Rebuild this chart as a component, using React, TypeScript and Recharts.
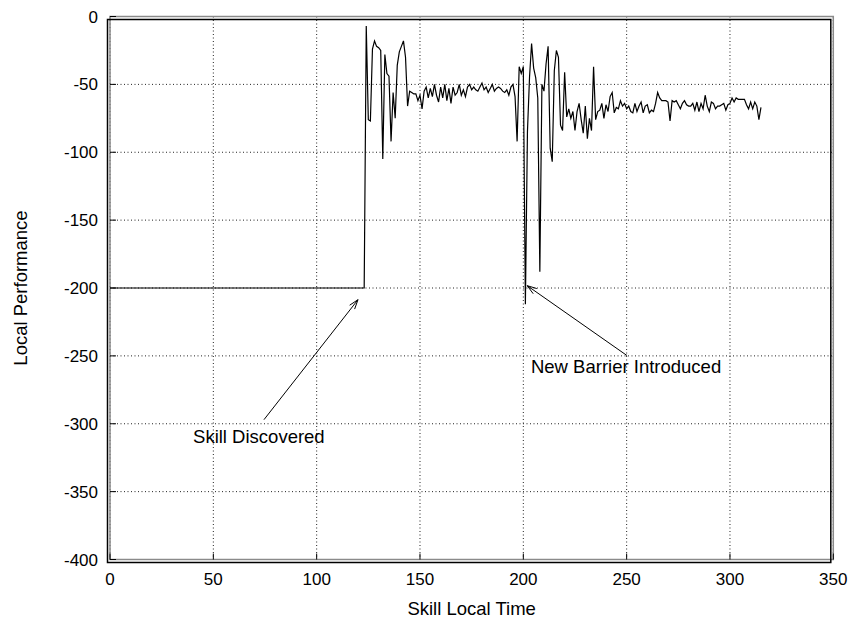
import React from 'react';
import {
  LineChart,
  Line,
  XAxis,
  YAxis,
  CartesianGrid,
  ReferenceLine,
  ReferenceDot,
  ReferenceArea,
} from 'recharts';

// ---------- data ----------
const flatSteps = [0, 123];
const flatPerformance = [-200, -200];
const discoveryStart = 124;
const performanceAfterDiscovery = [
  -7, -76, -77, -24, -18, -22, -23, -25, -105, -28, -42, -44, -92, -56, -75, -36, -26, -22, -18, -30, -66,
  -55, -56, -57, -57, -62, -58, -68, -55, -52, -60, -53, -59, -50, -58, -63, -52, -60, -50, -62, -53, -64,
  -52, -58, -56, -50, -58, -54, -59, -52, -50, -54, -52, -54, -55, -52, -49, -54, -52, -56, -53, -50, -55,
  -53, -52, -53, -55, -56, -54, -58, -52, -50, -59, -92, -37, -42, -37, -212, -85, -45, -20, -38, -45, -60,
  -188, -50, -55, -35, -22, -97, -107, -40, -25, -30, -80, -84, -41, -74, -68, -75, -70, -84, -70, -64,
  -76, -86, -66, -90, -75, -84, -37, -76, -70, -69, -64, -75, -65, -70, -59, -56, -71, -67, -68, -62, -66,
  -64, -68, -66, -70, -71, -64, -70, -66, -63, -71, -66, -65, -71, -69, -70, -64, -56, -60, -62, -62, -62,
  -63, -77, -62, -63, -62, -65, -68, -64, -62, -65, -66, -66, -64, -69, -63, -70, -64, -68, -58, -66, -70,
  -63, -64, -68, -66, -66, -65, -64, -69, -65, -64, -60, -63, -60, -61, -61, -61, -61, -65, -68, -63, -68,
  -63, -66, -76, -67,
];

const xTicks = [0, 50, 100, 150, 200, 250, 300, 350];
const yTicks = [0, -50, -100, -150, -200, -250, -300, -350, -400];

const annotations = [
  { text: 'Skill Discovered', textX: 40.2, textY: -309, fromX: 74.5, fromY: -297, toX: 120, toY: -208.6 },
  { text: 'New Barrier Introduced', textX: 203.7, textY: -258, fromX: 250.2, fromY: -249.8, toX: 201.9, toY: -198.3 },
];

const timeSteps = [...flatSteps, ...performanceAfterDiscovery.map((_, i) => discoveryStart + i)];
const performance = [...flatPerformance, ...performanceAfterDiscovery];
const data = timeSteps.map((t, i) => ({ t, perf: performance[i] }));

// ---------- style ----------
const FONT = '"Liberation Sans", Arial, Helvetica, sans-serif';
const FS_TICK = 17;
const FS_TITLE = 18.5;
const FS_NOTE = 18.5;
const TICK_IN = 6;
const X_MARGIN = 13;
const Y_MARGIN = 12;

const BottomTick = (props: any) => {
  const { x, y, payload } = props;
  const axisY = y - X_MARGIN;
  return (
    <g>
      <line x1={x} y1={axisY} x2={x} y2={axisY - TICK_IN} stroke="#000" strokeWidth={1} />
      <text x={x} y={y} dy="0.72em" textAnchor="middle" fontFamily={FONT} fontSize={FS_TICK} fill="#000">
        {payload.value}
      </text>
    </g>
  );
};

const LeftTick = (props: any) => {
  const { x, y, payload } = props;
  const axisX = x + Y_MARGIN;
  return (
    <g>
      <line x1={axisX} y1={y} x2={axisX + TICK_IN} y2={y} stroke="#000" strokeWidth={1} />
      <text x={x} y={y} dy="0.36em" textAnchor="end" fontFamily={FONT} fontSize={FS_TICK} fill="#000">
        {payload.value}
      </text>
    </g>
  );
};

const TopTick = (props: any) => {
  const { x, y } = props;
  return <line x1={x} y1={y} x2={x} y2={y + TICK_IN} stroke="#000" strokeWidth={1} />;
};

const RightTick = (props: any) => {
  const { x, y } = props;
  return <line x1={x} y1={y} x2={x - TICK_IN} y2={y} stroke="#000" strokeWidth={1} />;
};

const ArrowShape = (props: any) => {
  const { x1, y1, x2, y2 } = props;
  if ([x1, y1, x2, y2].some((v) => typeof v !== 'number' || isNaN(v))) return null;
  const ang = Math.atan2(y2 - y1, x2 - x1);
  const len = 10;
  const spread = 0.32;
  const ax = x2 - len * Math.cos(ang - spread);
  const ay = y2 - len * Math.sin(ang - spread);
  const bx = x2 - len * Math.cos(ang + spread);
  const by = y2 - len * Math.sin(ang + spread);
  return (
    <g>
      <line x1={x1} y1={y1} x2={x2} y2={y2} stroke="#000" strokeWidth={1} />
      <polyline points={`${ax},${ay} ${x2},${y2} ${bx},${by}`} fill="none" stroke="#000" strokeWidth={1} />
    </g>
  );
};

const makeTextShape = (text: string) => (props: any) => {
  const { cx, cy } = props;
  return (
    <text x={cx} y={cy} dy="0.36em" textAnchor="start" fontFamily={FONT} fontSize={FS_NOTE} fill="#000">
      {text}
    </text>
  );
};

const FrameShape = (props: any) => {
  const { x, y, width, height } = props;
  return (
    <g>
      <rect x={x} y={y} width={width} height={height} fill="none" stroke="#8a8a8a" strokeWidth={1.5} />
      <rect x={x - 2.5} y={y + 3} width={width} height={height} fill="none" stroke="#000" strokeWidth={1.5} />
    </g>
  );
};

export default function App() {
  return (
    <div style={{ width: 843, height: 615, padding: '8px 0 0 8px', overflow: 'visible' }}>
      <style>{`html, body { margin: 0; overflow: hidden; } svg.recharts-surface { overflow: visible; } .recharts-wrapper { overflow: visible !important; }`}</style>
      <LineChart
        width={835}
        height={607}
        data={data}
        margin={{ top: 8.5, right: 9.7, bottom: 0.5, left: 0 }}
      >
        <CartesianGrid
          stroke="#222"
          strokeDasharray="1 2.5"
          strokeWidth={1}
          horizontalValues={yTicks}
          verticalValues={xTicks}
        />
        <XAxis
          dataKey="t"
          type="number"
          domain={[0, 350]}
          ticks={xTicks}
          allowDataOverflow
          axisLine={false}
          tickLine={false}
          tickSize={0}
          tickMargin={X_MARGIN}
          height={55}
          tick={<BottomTick />}
          interval={0}
          label={{
            value: 'Skill Local Time',
            position: 'insideBottom',
            offset: 0,
            style: { fontFamily: FONT, fontSize: FS_TITLE, fill: '#000' },
          }}
        />
        <XAxis
          xAxisId="top"
          orientation="top"
          dataKey="t"
          type="number"
          domain={[0, 350]}
          ticks={xTicks}
          allowDataOverflow
          axisLine={false}
          tickLine={false}
          tickSize={0}
          tickMargin={0}
          height={0}
          tick={<TopTick />}
          interval={0}
        />
        <YAxis
          type="number"
          domain={[-400, 0]}
          ticks={yTicks}
          allowDataOverflow
          axisLine={false}
          tickLine={false}
          tickSize={0}
          tickMargin={Y_MARGIN}
          width={102}
          tick={<LeftTick />}
          interval={0}
          label={{
            value: 'Local Performance',
            angle: -90,
            position: 'insideLeft',
            offset: 12,
            style: { fontFamily: FONT, fontSize: FS_TITLE, fill: '#000', textAnchor: 'middle' },
          }}
        />
        <YAxis
          yAxisId="right"
          orientation="right"
          type="number"
          domain={[-400, 0]}
          ticks={yTicks}
          allowDataOverflow
          axisLine={false}
          tickLine={false}
          tickSize={0}
          tickMargin={0}
          width={0}
          tick={<RightTick />}
          interval={0}
        />
        <ReferenceArea x1={0} x2={350} y1={-400} y2={0} shape={<FrameShape />} ifOverflow="visible" />
        <Line
          dataKey="perf"
          type="linear"
          stroke="#000"
          strokeWidth={1.2}
          dot={false}
          activeDot={false}
          isAnimationActive={false}
        />
        {annotations.map((a) => (
          <ReferenceLine
            key={a.text + '-arrow'}
            segment={[
              { x: a.fromX, y: a.fromY },
              { x: a.toX, y: a.toY },
            ]}
            shape={<ArrowShape />}
            ifOverflow="visible"
          />
        ))}
        {annotations.map((a) => (
          <ReferenceDot
            key={a.text + '-text'}
            x={a.textX}
            y={a.textY}
            r={0}
            shape={makeTextShape(a.text)}
            ifOverflow="visible"
          />
        ))}
      </LineChart>
    </div>
  );
}
